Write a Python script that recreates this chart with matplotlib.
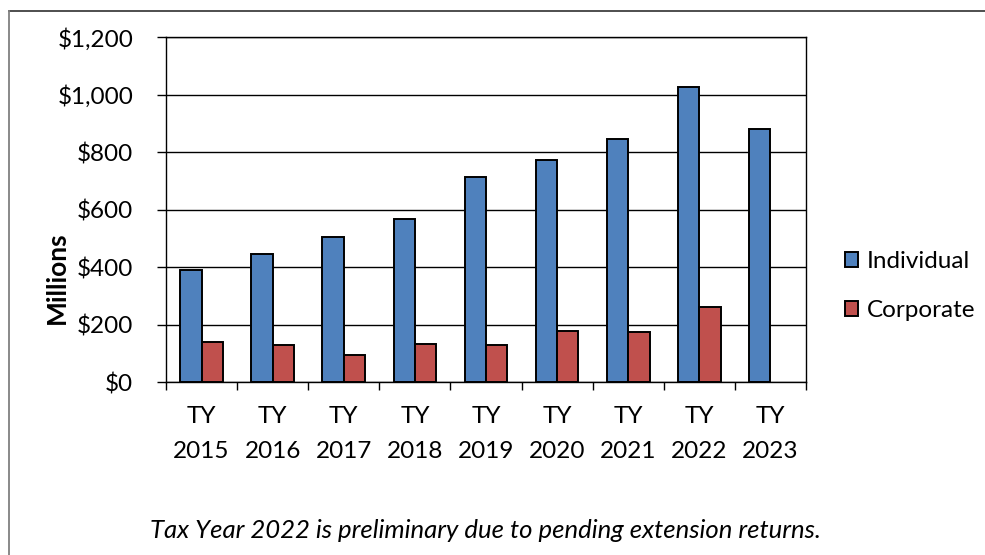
import matplotlib
matplotlib.use("Agg")
import matplotlib.pyplot as plt
from matplotlib.lines import Line2D
import numpy as np

categories = ["TY\n2015", "TY\n2016", "TY\n2017", "TY\n2018", "TY\n2019",
              "TY\n2020", "TY\n2021", "TY\n2022", "TY\n2023"]
individual = [392, 446, 504, 567, 713, 772, 847, 1028, 880]
corporate = [140, 131, 94, 132, 131, 179, 175, 263, np.nan]
y_ticks = [0, 200, 400, 600, 800, 1000, 1200]
y_tick_labels = ["$0", "$200", "$400", "$600", "$800", "$1,000", "$1,200"]
series_names = ["Individual", "Corporate"]
caption = "Tax Year 2022 is preliminary due to pending extension returns."
y_label = "Millions"

plt.rcParams['font.family'] = ['Lato', 'DejaVu Sans']
FS = 17.5
BLUE = "#4F81BD"
RED = "#C0504D"

W, H = 985, 555
fig = plt.figure(figsize=(W / 100, H / 100), dpi=100)
ax = fig.add_axes([166 / W, 1 - 382.3 / H, (806 - 166) / W, (382.3 - 37.3) / H])

n = len(categories)
centers = np.arange(n) + 0.5
bw = 0.3
ax.bar(centers - bw / 2, individual, width=bw, color=BLUE, edgecolor="black",
       linewidth=1.4, zorder=3, label=series_names[0])
ax.bar(centers + bw / 2, corporate, width=bw, color=RED, edgecolor="black",
       linewidth=1.4, zorder=3, label=series_names[1])

ax.set_xlim(0, n)
ax.set_ylim(0, 1200)
ax.set_yticks(y_ticks, labels=y_tick_labels)
ax.set_xticks(np.arange(n + 1))
ax.set_xticklabels([])
ax.set_xticks(centers, labels=categories, minor=True)
ax.tick_params(axis="x", which="minor", length=0, pad=17, labelsize=FS)
ax.tick_params(axis="x", which="major", length=6, width=1, direction="out", color="black")
ax.tick_params(axis="y", length=6.5, width=1, direction="out", pad=17, labelsize=FS, color="black")
for lab in ax.get_xticklabels(minor=True):
    lab.set_linespacing(1.8)

ax.grid(axis="y", color="black", linewidth=1, zorder=0)
for s in ax.spines.values():
    s.set_color("black")
    s.set_linewidth(1)

fig.text(57 / W, 1 - 278 / H, y_label, rotation=90, ha="center", va="center",
         fontsize=19, fontweight="bold")

leg = ax.legend(loc="center left", bbox_to_anchor=(835 / W, 1 - 286 / H),
                bbox_transform=fig.transFigure, frameon=False, fontsize=FS,
                handlelength=0.55, handleheight=0.55, handletextpad=0.35,
                labelspacing=1.15, borderaxespad=0)

fig.text(485 / W, 1 - 530 / H, caption, ha="center", va="center",
         fontsize=18.5, style="italic")

fig.add_artist(Line2D([8.5 / W, 1], [1 - 10.5 / H, 1 - 10.5 / H],
                      transform=fig.transFigure, color="#404040", linewidth=1.3))
fig.add_artist(Line2D([8.5 / W, 8.5 / W], [0, 1 - 10.5 / H],
                      transform=fig.transFigure, color="#808080", linewidth=1.3))

fig.savefig("out.png", dpi=100)
